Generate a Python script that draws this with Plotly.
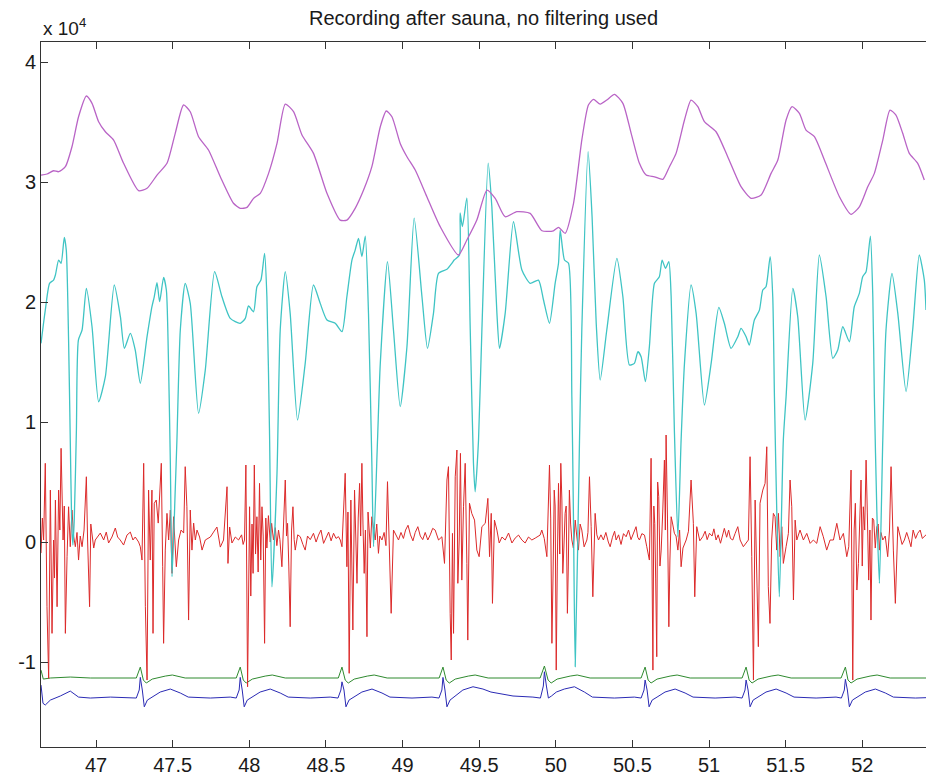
import plotly.graph_objects as go

# ---- data (values in units of 1e4, time in seconds) ----
magenta_x = [46.641,46.680,46.723,46.756,46.800,46.843,46.886,46.937,46.974,47.017,47.061,47.115,47.180,47.278,47.333,47.398,47.463,47.517,47.571,47.615,47.669,47.734,47.811,47.897,47.941,47.985,48.028,48.072,48.126,48.181,48.235,48.289,48.344,48.419,48.507,48.593,48.637,48.691,48.746,48.800,48.855,48.894,48.931,48.985,49.029,49.083,49.159,49.246,49.365,49.420,49.485,49.551,49.605,49.670,49.746,49.833,49.910,49.985,50.018,50.061,50.116,50.170,50.213,50.246,50.290,50.333,50.383,50.438,50.492,50.546,50.590,50.644,50.699,50.742,50.785,50.840,50.883,50.927,50.970,51.046,51.122,51.209,51.275,51.340,51.405,51.449,51.503,51.542,51.590,51.633,51.688,51.753,51.851,51.927,51.981,52.036,52.079,52.134,52.181,52.220,52.264,52.307,52.362,52.405]
magenta_y = [3.058,3.067,3.094,3.086,3.128,3.294,3.544,3.717,3.656,3.503,3.419,3.350,3.156,2.928,2.948,3.058,3.156,3.406,3.642,3.586,3.378,3.267,3.044,2.823,2.781,2.789,2.864,2.906,3.072,3.322,3.650,3.586,3.392,3.239,2.906,2.683,2.683,2.781,2.933,3.128,3.461,3.592,3.544,3.322,3.211,3.100,2.878,2.628,2.392,2.517,2.683,2.933,2.864,2.711,2.753,2.739,2.594,2.594,2.623,2.573,2.823,3.350,3.642,3.689,3.650,3.683,3.731,3.656,3.406,3.156,3.058,3.044,3.023,3.128,3.239,3.517,3.683,3.628,3.503,3.419,3.211,2.961,2.864,2.892,3.072,3.183,3.517,3.628,3.572,3.433,3.378,3.183,2.878,2.731,2.794,2.961,3.072,3.350,3.600,3.558,3.406,3.239,3.156,3.017]

cyan_x = [46.641,46.669,46.697,46.723,46.735,46.756,46.772,46.793,46.806,46.821,46.832,46.841,46.849,46.858,46.872,46.885,46.909,46.937,46.974,47.017,47.061,47.119,47.159,47.185,47.224,47.256,47.289,47.333,47.365,47.380,47.398,47.415,47.441,47.459,47.474,47.485,47.496,47.517,47.528,47.550,47.582,47.615,47.669,47.713,47.774,47.822,47.876,47.941,47.974,47.995,48.028,48.050,48.076,48.100,48.115,48.132,48.148,48.181,48.202,48.235,48.267,48.315,48.365,48.419,48.463,48.507,48.561,48.605,48.637,48.670,48.691,48.713,48.735,48.757,48.778,48.800,48.811,48.837,48.855,48.902,48.941,48.985,49.029,49.076,49.127,49.163,49.202,49.235,49.290,49.322,49.337,49.372,49.376,49.391,49.420,49.442,49.463,49.474,49.496,49.518,49.559,49.583,49.616,49.633,49.670,49.724,49.779,49.833,49.887,49.920,49.959,49.996,50.018,50.029,50.057,50.083,50.105,50.115,50.127,50.155,50.170,50.211,50.237,50.264,50.290,50.333,50.399,50.438,50.481,50.513,50.536,50.557,50.585,50.611,50.644,50.676,50.694,50.716,50.738,50.753,50.774,50.797,50.818,50.840,50.883,50.916,50.970,51.014,51.064,51.100,51.144,51.188,51.209,51.242,51.263,51.296,51.329,51.351,51.372,51.399,51.416,51.427,51.442,51.459,51.485,51.503,51.547,51.579,51.627,51.677,51.720,51.764,51.808,51.840,51.873,51.916,51.948,51.981,52.003,52.025,52.053,52.069,52.079,52.095,52.112,52.134,52.155,52.194,52.232,52.286,52.329,52.372,52.405,52.416]
cyan_y = [1.656,1.933,2.156,2.183,2.225,2.350,2.323,2.539,2.433,1.683,0.850,0.183,-0.025,0.183,0.933,1.683,1.767,2.114,1.794,1.169,1.378,2.142,1.878,1.614,1.739,1.600,1.323,1.711,1.961,2.044,2.161,2.003,2.206,2.100,1.433,0.658,-0.289,0.433,0.850,1.767,2.156,1.989,1.073,1.433,2.253,2.044,1.864,1.823,1.864,1.967,1.919,2.128,2.183,2.406,2.044,0.933,-0.373,0.573,1.767,2.253,1.906,1.017,1.489,2.142,1.989,1.850,1.823,1.753,2.044,2.350,2.433,2.531,2.378,2.550,1.906,0.656,-0.039,0.850,1.489,2.336,1.767,1.128,1.628,2.700,2.044,1.614,1.906,2.239,2.273,2.323,2.350,2.392,2.742,2.628,2.867,1.767,0.656,0.419,0.850,1.767,3.158,2.794,1.906,1.614,1.906,2.669,2.267,2.156,2.183,2.017,1.823,2.156,2.323,2.600,2.350,2.323,1.211,0.267,-1.039,0.850,1.767,3.253,2.711,1.823,1.350,1.767,2.364,2.044,1.475,1.489,1.586,1.544,1.336,1.628,2.156,2.211,2.350,2.281,2.336,2.044,0.933,0.044,0.850,1.489,2.142,1.906,1.142,1.489,1.956,1.823,1.614,1.711,1.781,1.711,1.642,1.850,1.933,2.100,2.128,2.378,2.044,1.211,0.267,-0.456,0.850,1.211,2.114,1.878,1.017,1.489,2.392,2.044,1.531,1.600,1.794,1.669,1.961,2.072,2.211,2.253,2.550,2.044,1.211,0.267,-0.344,0.850,1.767,2.239,1.906,1.253,1.767,2.392,2.183,1.933]

# red channel samples (time, value), read burst by burst
red_samples = [
    (46.641,-0.092),(46.650,0.200),(46.658,0.017),(46.669,0.656),(46.680,-0.539),(46.691,-1.136),(46.702,0.433),(46.708,-0.200),(46.713,-0.761),(46.723,0.017),(46.729,-0.300),(46.735,0.350),(46.746,-0.539),(46.756,0.433),(46.764,0.100),(46.772,0.781),(46.785,0.017),(46.793,0.300),(46.800,-0.761),(46.811,-0.122),(46.821,0.294),(46.832,-0.039),(46.843,0.267),(46.854,0.050),(46.865,-0.039),(46.876,0.080),(46.886,-0.150),(46.897,0.050),(46.909,-0.039),(46.922,0.100),(46.937,0.544),(46.945,0.017),(46.958,-0.539),(46.966,0.150),(46.974,0.073),(46.985,-0.050),(46.995,0.017),(47.010,0.040),
    (47.028,0.075),(47.050,0.017),(47.067,0.083),(47.082,-0.008),(47.104,0.042),(47.126,0.117),(47.141,0.042),(47.158,0.017),(47.180,-0.025),(47.202,0.058),(47.224,0.083),(47.241,0.017),(47.256,0.042),(47.278,0.000),
    (47.289,-0.039),(47.300,-0.150),(47.311,0.656),(47.322,-0.539),(47.333,-1.150),(47.343,0.433),(47.354,-0.150),(47.365,0.433),(47.372,-0.761),(47.380,0.323),(47.393,0.350),(47.406,0.158),(47.415,0.406),(47.426,0.656),(47.435,-0.206),(47.441,-0.844),(47.452,-0.067),(47.463,0.239),(47.474,0.017),(47.485,0.267),(47.496,-0.261),(47.506,0.211),(47.524,-0.206),(47.539,0.017),(47.555,0.100),(47.572,0.075),(47.582,0.628),(47.593,0.294),(47.604,-0.650),(47.615,0.267),(47.626,-0.067),(47.637,0.158),(47.648,0.017),(47.659,0.100),(47.676,0.042),(47.692,-0.067),(47.713,0.017),(47.746,0.042),(47.767,0.083),(47.789,0.125),(47.811,-0.042),(47.832,0.017),(47.855,0.461),(47.861,-0.178),(47.872,0.125),(47.887,-0.008),(47.909,0.042),(47.930,0.017),(47.950,0.060),(47.960,-0.020),
    (47.969,0.017),(47.978,0.642),(47.989,-1.206),(48.002,0.294),(48.010,-0.450),(48.018,0.150),(48.025,-0.261),(48.033,0.642),(48.041,-0.100),(48.050,0.211),(48.058,-0.250),(48.067,0.489),(48.075,-0.150),(48.083,0.294),(48.091,0.050),(48.100,-0.844),(48.108,0.200),(48.115,-0.050),(48.125,0.220),(48.137,0.000),(48.146,0.156),(48.158,0.017),(48.170,0.120),(48.180,-0.030),(48.191,0.100),(48.200,0.020),(48.213,-0.206),(48.224,0.120),(48.235,0.517),(48.243,0.050),(48.250,0.156),(48.258,-0.200),(48.267,-0.706),(48.276,0.100),(48.285,0.294),(48.293,0.020),(48.300,-0.067),(48.316,0.060),(48.333,0.044),
    (48.350,-0.020),(48.365,-0.067),(48.380,0.050),(48.398,0.020),(48.419,0.073),(48.436,0.000),(48.452,0.058),(48.468,0.100),(48.485,-0.011),(48.502,0.040),(48.518,0.083),(48.534,0.010),(48.550,0.073),(48.566,0.030),(48.582,0.045),(48.594,0.017),
    (48.605,-0.039),(48.626,0.573),(48.637,-0.206),(48.644,0.250),(48.652,-1.094),(48.663,0.350),(48.669,-0.100),(48.676,-0.733),(48.687,0.433),(48.695,-0.100),(48.703,-0.344),(48.711,0.200),(48.720,0.489),(48.727,0.050),(48.735,0.656),(48.742,0.150),(48.750,-0.261),(48.758,0.100),(48.768,-0.789),(48.775,0.250),(48.783,0.073),(48.790,-0.050),(48.800,0.211),(48.810,0.100),(48.822,0.017),(48.832,0.150),(48.843,-0.094),(48.852,0.050),(48.866,0.017),(48.880,0.080),(48.892,-0.030),(48.902,0.503),(48.915,-0.094),(48.926,-0.594),(48.941,0.100),(48.955,0.060),(48.974,0.017),
    (48.990,0.080),(49.006,0.030),(49.020,0.100),(49.036,0.140),(49.052,0.060),(49.068,0.010),(49.083,0.080),(49.100,0.128),(49.116,0.050),(49.132,0.020),(49.148,0.080),(49.165,0.017),(49.181,0.060),(49.197,0.114),
    (49.213,0.100),(49.235,0.017),(49.257,0.044),(49.274,-0.178),(49.290,0.517),(49.300,0.628),(49.311,-0.594),(49.318,-0.983),(49.326,0.072),(49.333,-0.761),(49.344,0.544),(49.355,0.767),(49.361,-0.344),(49.370,0.017),(49.378,0.739),(49.387,-0.317),(49.398,0.294),(49.409,0.656),(49.420,-0.178),(49.426,-0.817),(49.437,0.323),(49.452,0.239),(49.470,0.183),(49.485,-0.067),(49.500,-0.122),(49.518,0.128),(49.540,0.156),(49.557,0.364),(49.568,-0.122),(49.579,0.239),(49.587,-0.511),(49.600,0.183),(49.616,0.100),(49.631,-0.008),(49.649,0.042),(49.670,0.017),(49.692,0.075),(49.714,-0.008),(49.735,0.033),(49.757,0.058),(49.779,0.017),(49.800,-0.008),(49.822,0.042),(49.844,0.017),(49.866,0.033),(49.898,0.058),
    (49.909,0.100),(49.925,0.030),(49.942,-0.122),(49.959,0.642),(49.967,0.200),(49.975,-0.844),(49.982,-0.300),(49.990,0.433),(49.996,0.300),(50.003,-1.067),(50.010,-0.200),(50.018,0.489),(50.026,-0.100),(50.033,0.656),(50.040,0.350),(50.046,-0.261),(50.053,-0.050),(50.061,0.239),(50.068,0.300),(50.076,-0.594),(50.082,-0.200),(50.089,0.433),(50.097,0.150),(50.105,0.017),(50.115,-0.050),(50.127,0.183),(50.137,0.050),(50.148,-0.067),(50.159,0.150),(50.170,0.100),(50.185,-0.040),(50.203,0.017),(50.210,0.080),(50.220,0.544),(50.231,0.128),(50.242,-0.456),(50.257,0.239),(50.268,0.060),(50.279,0.017),
    (50.295,0.060),(50.311,0.017),(50.327,0.080),(50.343,0.000),(50.355,-0.039),(50.370,0.040),(50.384,0.090),(50.394,0.017),(50.410,0.060),(50.426,-0.020),(50.442,0.070),(50.459,0.044),(50.475,0.100),(50.491,0.020),(50.507,0.080),(50.524,0.128),(50.535,0.040),(50.546,0.017),(50.562,0.070),(50.579,0.058),
    (50.594,-0.039),(50.611,-0.150),(50.622,0.698),(50.634,-1.067),(50.640,0.300),(50.646,0.156),(50.652,-0.300),(50.659,-0.956),(50.665,0.500),(50.672,0.378),(50.680,-0.200),(50.688,-0.067),(50.698,0.250),(50.709,0.683),(50.715,0.100),(50.720,0.892),(50.729,0.200),(50.738,-0.706),(50.745,-0.150),(50.753,0.211),(50.763,0.150),(50.774,0.073),(50.785,0.050),(50.797,-0.067),(50.808,0.100),(50.818,-0.206),(50.830,-0.050),(50.851,0.017),(50.866,0.090),(50.883,0.517),(50.898,0.156),(50.907,-0.456),(50.920,0.128),(50.940,0.010),(50.959,0.044),(50.975,0.090),(50.988,0.020),(51.003,0.073),(51.020,0.050),(51.032,0.110),(51.046,0.017),(51.060,0.060),(51.075,-0.010),(51.088,0.070),(51.100,0.114),(51.115,0.040),(51.128,0.100),(51.140,0.030),(51.155,0.017),(51.170,0.070),(51.188,0.128),
    (51.203,0.017),(51.224,-0.039),(51.257,0.017),(51.268,0.711),(51.279,-0.122),(51.290,-1.150),(51.301,0.350),(51.312,-0.317),(51.322,-0.872),(51.333,0.323),(51.351,0.433),(51.366,0.489),(51.377,0.794),(51.387,-0.372),(51.398,-0.678),(51.409,0.017),(51.420,0.239),(51.431,0.211),(51.442,-0.067),(51.453,0.239),(51.464,-0.122),(51.475,0.128),(51.485,-0.178),(51.503,-0.039),(51.518,0.072),(51.529,0.517),(51.540,0.294),(51.551,-0.483),(51.562,0.183),(51.573,0.017),(51.594,0.100),(51.616,0.017),(51.638,0.072),(51.660,-0.011),(51.681,0.017),(51.703,-0.011),(51.725,0.128),(51.746,0.044),(51.768,-0.067),(51.790,0.017),(51.812,0.017),(51.834,0.156),(51.855,0.017),(51.877,0.072),(51.899,-0.122),
    (51.912,-0.039),(51.927,0.600),(51.938,-1.150),(51.947,0.100),(51.955,0.323),(51.965,-0.400),(51.975,-0.178),(51.983,0.200),(51.992,0.517),(52.000,-0.200),(52.007,0.294),(52.016,0.100),(52.025,0.683),(52.033,0.250),(52.042,-0.317),(52.050,0.100),(52.057,-0.650),(52.066,0.200),(52.075,0.183),(52.085,-0.050),(52.095,0.128),(52.104,0.150),(52.112,-0.067),(52.122,0.080),(52.134,0.017),(52.150,0.050),(52.166,-0.122),(52.178,0.100),(52.188,0.628),(52.203,-0.067),(52.216,-0.511),(52.232,0.128),(52.245,0.060),(52.260,-0.020),(52.275,0.017),(52.290,0.080),(52.305,0.020),(52.318,-0.039),(52.332,0.100),(52.348,0.030),(52.362,0.073),(52.378,0.100),(52.392,0.030),(52.405,0.044),(52.416,0.060),
]
red_x = [p[0] for p in red_samples]
red_y = [p[1] for p in red_samples]

green_x = [46.641,46.656,46.702,46.832,46.963,47.159,47.263,47.289,47.309,47.328,47.367,47.452,47.498,47.582,47.778,47.915,47.941,47.961,47.980,48.020,48.104,48.150,48.235,48.431,48.581,48.605,48.626,48.646,48.685,48.770,48.815,48.900,49.083,49.239,49.264,49.285,49.305,49.344,49.429,49.474,49.559,49.735,49.898,49.926,49.950,49.970,50.009,50.094,50.140,50.224,50.387,50.557,50.583,50.603,50.622,50.661,50.746,50.792,50.877,51.040,51.216,51.242,51.262,51.281,51.320,51.405,51.451,51.536,51.692,51.862,51.890,51.907,51.927,51.966,52.051,52.097,52.182,52.416]
green_y = [-1.067,-1.142,-1.133,-1.125,-1.133,-1.133,-1.133,-1.042,-1.150,-1.175,-1.142,-1.117,-1.108,-1.133,-1.133,-1.133,-1.042,-1.150,-1.175,-1.142,-1.117,-1.108,-1.133,-1.133,-1.133,-1.042,-1.150,-1.175,-1.142,-1.117,-1.108,-1.133,-1.133,-1.133,-1.042,-1.150,-1.175,-1.142,-1.117,-1.108,-1.133,-1.133,-1.133,-1.033,-1.150,-1.175,-1.142,-1.117,-1.108,-1.133,-1.133,-1.133,-1.042,-1.150,-1.175,-1.142,-1.117,-1.108,-1.133,-1.133,-1.133,-1.042,-1.150,-1.175,-1.142,-1.117,-1.108,-1.133,-1.133,-1.133,-1.042,-1.150,-1.175,-1.142,-1.117,-1.108,-1.133,-1.133]

blue_x = [46.641,46.654,46.669,46.702,46.767,46.832,46.886,46.963,47.094,
          47.263,47.282,47.289,47.302,47.315,47.335,47.367,47.419,47.485,47.550,47.602,47.746,47.876,
          47.915,47.934,47.941,47.954,47.967,47.987,48.019,48.071,48.137,48.202,48.254,48.398,48.528,
          48.579,48.598,48.605,48.618,48.631,48.651,48.683,48.735,48.801,48.866,48.918,49.062,49.192,
          49.238,49.257,49.264,49.277,49.290,49.310,49.342,49.394,49.460,49.525,49.577,49.721,49.851,
          49.900,49.919,49.926,49.939,49.952,49.972,50.004,50.056,50.122,50.187,50.239,50.383,50.513,
          50.557,50.576,50.583,50.596,50.609,50.629,50.661,50.713,50.779,50.844,50.896,51.040,51.170,
          51.216,51.235,51.242,51.255,51.268,51.288,51.320,51.372,51.438,51.503,51.555,51.699,51.829,
          51.864,51.883,51.890,51.903,51.916,51.936,51.968,52.020,52.086,52.151,52.203,52.347,52.416]
blue_y = [-1.192,-1.344,-1.358,-1.317,-1.283,-1.242,-1.292,-1.300,-1.292,
          -1.300,-1.233,-1.128,-1.233,-1.373,-1.317,-1.292,-1.250,-1.225,-1.258,-1.292,-1.300,-1.292,
          -1.300,-1.233,-1.128,-1.233,-1.373,-1.317,-1.292,-1.250,-1.225,-1.258,-1.292,-1.300,-1.292,
          -1.300,-1.233,-1.165,-1.233,-1.373,-1.317,-1.292,-1.250,-1.225,-1.258,-1.292,-1.300,-1.292,
          -1.300,-1.233,-1.128,-1.233,-1.373,-1.317,-1.283,-1.233,-1.206,-1.225,-1.250,-1.283,-1.292,
          -1.300,-1.200,-1.081,-1.200,-1.300,-1.283,-1.250,-1.225,-1.206,-1.250,-1.292,-1.300,-1.292,
          -1.300,-1.233,-1.150,-1.233,-1.373,-1.317,-1.292,-1.250,-1.225,-1.258,-1.292,-1.300,-1.292,
          -1.300,-1.233,-1.150,-1.233,-1.373,-1.317,-1.292,-1.250,-1.225,-1.258,-1.292,-1.300,-1.292,
          -1.300,-1.233,-1.144,-1.233,-1.373,-1.317,-1.292,-1.250,-1.225,-1.258,-1.292,-1.300,-1.297]

x_ticks = [47, 47.5, 48, 48.5, 49, 49.5, 50, 50.5, 51, 51.5, 52]
x_tick_labels = ["47", "47.5", "48", "48.5", "49", "49.5", "50", "50.5", "51", "51.5", "52"]
y_ticks = [-1, 0, 1, 2, 3, 4]
y_tick_labels = ["-1", "0", "1", "2", "3", "4"]

FONT = "Arial, 'Liberation Sans', sans-serif"

fig = go.Figure()
series = [
    (blue_x, blue_y, "#2a2ab4", 1.0, "linear"),
    (green_x, green_y, "#2f8a2f", 1.0, "linear"),
    (red_x, red_y, "#dc2a2a", 1.0, "linear"),
    (cyan_x, cyan_y, "#3fc4c4", 1.3, "spline"),
    (magenta_x, magenta_y, "#b964c6", 1.3, "spline"),
]
for xs, ys, col, w, shp in series:
    line = dict(color=col, width=w, shape=shp)
    if shp == "spline":
        line["smoothing"] = 0.6
    fig.add_trace(go.Scatter(x=xs, y=ys, mode="lines", line=line,
                             hoverinfo="skip", showlegend=False))

fig.update_layout(
    width=926, height=776,
    margin=dict(l=41, r=0, t=42, b=29),
    paper_bgcolor="white", plot_bgcolor="white",
    font=dict(family=FONT, size=20, color="#1a1a1a"),
    title=dict(text="Recording after sauna, no filtering used", x=0.5, xref="paper",
               y=1 - 18 / 776, yref="container", xanchor="center", yanchor="middle",
               font=dict(family=FONT, size=20, color="#1a1a1a")),
    xaxis=dict(range=[46.641, 52.416], tickvals=x_ticks, ticktext=x_tick_labels,
               ticks="inside", ticklen=7, tickcolor="#333", showline=True, linecolor="#333",
               linewidth=1, mirror="ticks", showgrid=False, zeroline=False,
               tickfont=dict(family=FONT, size=20, color="#1a1a1a")),
    yaxis=dict(range=[-1.708, 4.167], tickvals=y_ticks, ticktext=y_tick_labels,
               ticks="inside", ticklen=7, tickcolor="#333", showline=True, linecolor="#333",
               linewidth=1, mirror=False, showgrid=False, zeroline=False,
               tickfont=dict(family=FONT, size=20, color="#1a1a1a")),
)
fig.add_annotation(text="x 10<sup>4</sup>", xref="paper", yref="paper", x=0, y=1 + 15 / 705,
                   xanchor="left", yanchor="middle", showarrow=False,
                   font=dict(family=FONT, size=19, color="#1a1a1a"))

fig.write_html("out.html")
